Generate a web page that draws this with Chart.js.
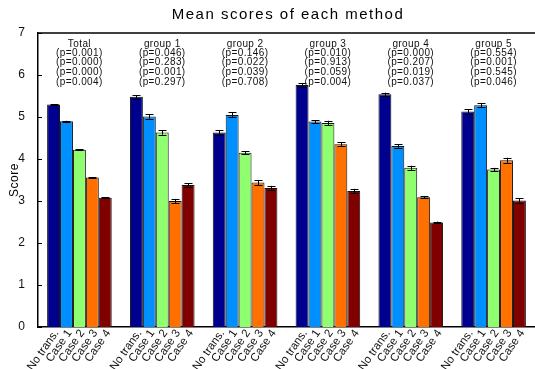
<!DOCTYPE html>
<html lang="en">
<head>
    <meta charset="UTF-8">
    <title>Mean scores of each method</title>
    <script src="https://cdn.jsdelivr.net/npm/chart.js"></script>
    <style>
        body { margin: 0; background: #fff; }
        #wrap { width: 535px; height: 369px; }
    </style>
</head>
<body>
    <div id="wrap"><canvas id="scoreChart" width="535" height="369"></canvas></div>
    <script>
        const groups = ['Total', 'group 1', 'group 2', 'group 3', 'group 4', 'group 5'];
        const methods = ['No trans.', 'Case 1', 'Case 2', 'Case 3', 'Case 4'];
        const colors = ['#00008F', '#008FFF', '#8FFF70', '#FF7000', '#800000'];

        const noTrans = [5.30, 5.48, 4.63, 5.76, 5.54, 5.13];
        const case1 = [4.90, 5.01, 5.05, 4.89, 4.31, 5.28];
        const case2 = [4.22, 4.63, 4.15, 4.86, 3.79, 3.75];
        const case3 = [3.56, 3.00, 3.44, 4.35, 3.09, 3.97];
        const case4 = [3.08, 3.38, 3.31, 3.24, 2.49, 3.01];

        const errNoTrans = [0.01, 0.04, 0.05, 0.05, 0.04, 0.05];
        const errCase1 = [0.01, 0.05, 0.06, 0.04, 0.04, 0.05];
        const errCase2 = [0.01, 0.05, 0.04, 0.05, 0.05, 0.04];
        const errCase3 = [0.01, 0.05, 0.06, 0.05, 0.03, 0.06];
        const errCase4 = [0.01, 0.04, 0.05, 0.05, 0.02, 0.05];

        const pLine1 = ['0.001', '0.046', '0.146', '0.010', '0.000', '0.554'];
        const pLine2 = ['0.000', '0.283', '0.022', '0.913', '0.207', '0.001'];
        const pLine3 = ['0.000', '0.001', '0.039', '0.059', '0.019', '0.545'];
        const pLine4 = ['0.004', '0.297', '0.708', '0.004', '0.037', '0.046'];

        const yTicks = [0, 1, 2, 3, 4, 5, 6, 7];

        const series = [noTrans, case1, case2, case3, case4];
        const errors = [errNoTrans, errCase1, errCase2, errCase3, errCase4];
        const FONT = 'Liberation Sans, Arial, sans-serif';

        // error bars, annotations, rotated bar labels, frame
        const extras = {
            id: 'extras',
            afterDatasetsDraw(chart) {
                const ctx = chart.ctx;
                const area = chart.chartArea;
                const y = chart.scales.y;
                const x = chart.scales.x;

                // error bars
                ctx.save();
                ctx.strokeStyle = '#000';
                ctx.lineWidth = 1;
                series.forEach((vals, d) => {
                    const meta = chart.getDatasetMeta(d);
                    meta.data.forEach((bar, i) => {
                        const hi = y.getPixelForValue(vals[i] + errors[d][i]);
                        const lo = y.getPixelForValue(vals[i] - errors[d][i]);
                        const cx = Math.round(bar.x) + 0.5;
                        ctx.beginPath();
                        ctx.moveTo(cx, hi); ctx.lineTo(cx, lo);
                        ctx.moveTo(cx - 4, Math.round(hi) + 0.5); ctx.lineTo(cx + 4, Math.round(hi) + 0.5);
                        ctx.moveTo(cx - 4, Math.round(lo) + 0.5); ctx.lineTo(cx + 4, Math.round(lo) + 0.5);
                        ctx.stroke();
                    });
                });
                ctx.restore();

                // frame top + left ticks
                ctx.save();
                ctx.strokeStyle = '#000';
                ctx.lineWidth = 1.5;
                ctx.beginPath();
                ctx.moveTo(area.left, area.top);
                ctx.lineTo(area.right + 5, area.top);
                ctx.stroke();
                ctx.lineWidth = 1;
                yTicks.forEach(v => {
                    const py = Math.round(y.getPixelForValue(v)) + 0.5;
                    ctx.beginPath();
                    ctx.moveTo(area.left, py);
                    ctx.lineTo(area.left + 4, py);
                    ctx.stroke();
                });
                ctx.restore();

                // group annotations
                ctx.save();
                ctx.fillStyle = '#111';
                ctx.font = '10px ' + FONT;
                ctx.letterSpacing = '0.4px';
                ctx.textAlign = 'center';
                ctx.textBaseline = 'middle';
                groups.forEach((g, i) => {
                    const gx = x.getPixelForValue(i);
                    ctx.fillText(g, gx, 44);
                    ctx.fillText('(p=' + pLine1[i] + ')', gx, 53.5);
                    ctx.fillText('(p=' + pLine2[i] + ')', gx, 62.5);
                    ctx.fillText('(p=' + pLine3[i] + ')', gx, 72);
                    ctx.fillText('(p=' + pLine4[i] + ')', gx, 82);
                });
                ctx.restore();

                // rotated per-bar labels
                ctx.save();
                ctx.fillStyle = '#111';
                ctx.font = '11.5px ' + FONT;
                ctx.textAlign = 'right';
                ctx.textBaseline = 'middle';
                series.forEach((vals, d) => {
                    chart.getDatasetMeta(d).data.forEach(bar => {
                        ctx.save();
                        ctx.translate(bar.x + 3, area.bottom + 4);
                        ctx.rotate(-55 * Math.PI / 180);
                        ctx.fillText(methods[d], 0, 0);
                        ctx.restore();
                    });
                });
                ctx.restore();

                // title and y label
                ctx.save();
                ctx.fillStyle = '#000';
                ctx.textAlign = 'center';
                ctx.textBaseline = 'middle';
                ctx.font = '15px ' + FONT;
                ctx.letterSpacing = '1.5px';
                ctx.fillText('Mean scores of each method', 288, 15);
                ctx.letterSpacing = '0.5px';
                ctx.font = '12px ' + FONT;
                ctx.translate(15, 180);
                ctx.rotate(-Math.PI / 2);
                ctx.fillText('Score', 0, 0);
                ctx.restore();
            }
        };

        new Chart(document.getElementById('scoreChart'), {
            type: 'bar',
            data: {
                labels: groups,
                datasets: methods.map((m, d) => ({
                    label: m,
                    data: series[d],
                    backgroundColor: colors[d],
                    borderColor: '#111',
                    borderWidth: 1,
                    borderSkipped: 'bottom',
                    categoryPercentage: 0.78,
                    barPercentage: 1.0
                }))
            },
            options: {
                responsive: false,
                animation: false,
                layout: { padding: { top: 33, right: 0, left: 0, bottom: 0 } },
                plugins: {
                    legend: { display: false },
                    title: { display: false },
                    tooltip: { enabled: false }
                },
                scales: {
                    x: {
                        grid: { display: false },
                        border: { display: true, color: '#000', width: 1.5 },
                        ticks: { display: false },
                        afterFit(scale) { scale.height = 42; }
                    },
                    y: {
                        min: 0,
                        max: 7,
                        grid: { display: false },
                        border: { display: true, color: '#000', width: 1.5 },
                        ticks: {
                            stepSize: 1,
                            color: '#111',
                            padding: 5,
                            font: { family: FONT, size: 12 }
                        },
                        afterFit(scale) { scale.width = 38; }
                    }
                }
            },
            plugins: [extras]
        });
    </script>
</body>
</html>
